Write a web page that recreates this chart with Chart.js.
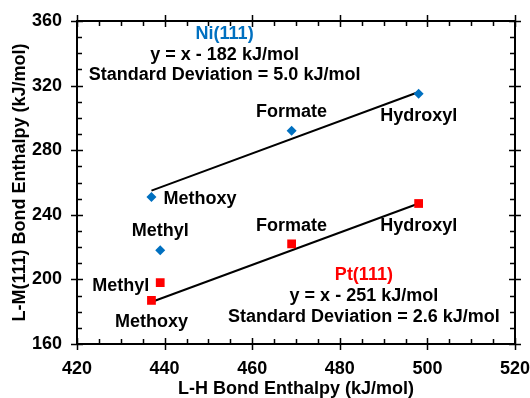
<!DOCTYPE html>
<html>
<head>
<meta charset="utf-8">
<script src="https://cdn.jsdelivr.net/npm/chart.js@4"></script>
<style>
  html, body { margin: 0; padding: 0; background: #fff; }
  #wrap { width: 530px; height: 398px; }
</style>
</head>
<body>
<div id="wrap"><canvas id="chart" width="530" height="398"></canvas></div>
<script>
// adsorbate order: Methoxy, Methyl, Formate, Hydroxyl
const adsorbates = ["Methoxy", "Methyl", "Formate", "Hydroxyl"];
const bondLH = [437, 439, 469, 498];
const niBond = [251, 218, 292, 315];
const ptBond = [187, 198, 222, 247];

// fitted lines, end points
const niFitX = [437, 498];
const niFitY = [255, 316];
const ptFitX = [437, 498];
const ptFitY = [186, 247];

const niNote = ["Ni(111)", "y = x - 182 kJ/mol", "Standard Deviation = 5.0 kJ/mol"];
const ptNote = ["Pt(111)", "y = x - 251 kJ/mol", "Standard Deviation = 2.6 kJ/mol"];

const xTicks = [420, 440, 460, 480, 500, 520];
const yTicks = [160, 200, 240, 280, 320, 360];

const FONT = "bold 18px 'Liberation Sans', Arial, sans-serif";
const NI_BLUE = "#0070c0";
const PT_RED = "#ff0000";

// label placement next to each point: [dx, dy, align]
const niLabelPos = [[12, 2, "left"], [0, -19, "center"], [0, -19, "center"], [0, 22, "center"]];
const ptLabelPos = [[0, 22, "center"], [-11, 3, "right"], [0, -18, "center"], [0, 23, "center"]];

function toPoints(xs, ys) {
  return xs.map((x, i) => ({ x, y: ys[i] }));
}

const frameAndTicks = {
  id: "frameAndTicks",
  afterDatasetsDraw(chart) {
    const { ctx, chartArea: a, scales } = chart;
    const sx = scales.x;
    const sy = scales.y;
    ctx.save();
    ctx.strokeStyle = "#000";
    ctx.lineWidth = 2;
    ctx.strokeRect(a.left, a.top, a.right - a.left, a.bottom - a.top);

    ctx.lineWidth = 1.5;
    ctx.beginPath();
    for (let v = 420; v <= 520; v += 5) {
      const px = Math.round(sx.getPixelForValue(v)) + 0.5;
      const major = v % 20 === 0;
      const out = major ? 6 : 0;
      const inn = major ? 6 : 5;
      ctx.moveTo(px, a.bottom + out);
      ctx.lineTo(px, a.bottom - inn);
      ctx.moveTo(px, a.top - out);
      ctx.lineTo(px, a.top + inn);
    }
    for (let v = 160; v <= 360; v += 10) {
      const py = Math.round(sy.getPixelForValue(v)) + 0.5;
      const major = v % 40 === 0;
      const out = major ? 6 : 0;
      const inn = major ? 6 : 5;
      ctx.moveTo(a.left - out, py);
      ctx.lineTo(a.left + inn, py);
      ctx.moveTo(a.right + out, py);
      ctx.lineTo(a.right - inn, py);
    }
    ctx.stroke();
    ctx.restore();
  }
};

const pointLabels = {
  id: "pointLabels",
  afterDatasetsDraw(chart) {
    const { ctx, scales } = chart;
    const sx = scales.x;
    const sy = scales.y;
    ctx.save();
    ctx.font = FONT;
    ctx.textBaseline = "middle";
    ctx.fillStyle = "#000";

    adsorbates.forEach((name, i) => {
      const x = sx.getPixelForValue(bondLH[i]);
      let [dx, dy, align] = niLabelPos[i];
      ctx.textAlign = align;
      ctx.fillText(name, x + dx, sy.getPixelForValue(niBond[i]) + dy);
      [dx, dy, align] = ptLabelPos[i];
      ctx.textAlign = align;
      ctx.fillText(name, x + dx, sy.getPixelForValue(ptBond[i]) + dy);
    });

    // fit notes
    ctx.textAlign = "center";
    const drawNote = (lines, cx, topY, color) => {
      lines.forEach((line, i) => {
        ctx.fillStyle = i === 0 ? color : "#000";
        ctx.fillText(line, sx.getPixelForValue(cx), sy.getPixelForValue(topY) + i * 20.8);
      });
    };
    drawNote(niNote, 453.7, 352, NI_BLUE);
    drawNote(ptNote, 485.5, 202.7, PT_RED);
    ctx.restore();
  }
};

new Chart(document.getElementById("chart"), {
  type: "scatter",
  plugins: [frameAndTicks, pointLabels],
  data: {
    datasets: [
      {
        label: "Ni fit",
        data: toPoints(niFitX, niFitY),
        showLine: true,
        borderColor: "#000",
        borderWidth: 2,
        pointRadius: 0,
        order: 3
      },
      {
        label: "Pt fit",
        data: toPoints(ptFitX, ptFitY),
        showLine: true,
        borderColor: "#000",
        borderWidth: 2,
        pointRadius: 0,
        order: 3
      },
      {
        label: "Ni(111)",
        data: toPoints(bondLH, niBond),
        pointStyle: "rectRot",
        pointRadius: 5,
        backgroundColor: NI_BLUE,
        borderColor: NI_BLUE,
        borderWidth: 0,
        order: 1
      },
      {
        label: "Pt(111)",
        data: toPoints(bondLH, ptBond),
        pointStyle: "rect",
        pointRadius: 6.2,
        backgroundColor: PT_RED,
        borderColor: PT_RED,
        borderWidth: 0,
        order: 1
      }
    ]
  },
  options: {
    responsive: false,
    animation: false,
    layout: { padding: { top: 21, right: 15, left: 0, bottom: 0 } },
    plugins: {
      legend: { display: false },
      tooltip: { enabled: false }
    },
    scales: {
      x: {
        type: "linear",
        min: 420,
        max: 520,
        afterBuildTicks: (scale) => { scale.ticks = xTicks.map((value) => ({ value })); },
        afterFit: (scale) => {
          scale.height = 54;
          scale.paddingLeft = 0;
          scale.paddingRight = 0;
        },
        grid: { display: true, drawOnChartArea: false, drawTicks: false },
        border: { display: false },
        ticks: { color: "#000", font: { family: "'Liberation Sans', Arial", size: 18, weight: "bold" }, padding: 14, maxRotation: 0 },
        title: {
          display: true,
          text: "L-H Bond Enthalpy (kJ/mol)",
          color: "#000",
          font: { family: "'Liberation Sans', Arial", size: 18, weight: "bold", lineHeight: 1 },
          padding: { top: 0, bottom: 0 }
        }
      },
      y: {
        type: "linear",
        min: 160,
        max: 360,
        afterBuildTicks: (scale) => { scale.ticks = yTicks.map((value) => ({ value })); },
        afterFit: (scale) => {
          scale.width = 77;
          scale.paddingTop = 0;
          scale.paddingBottom = 0;
        },
        grid: { display: true, drawOnChartArea: false, drawTicks: false },
        border: { display: false },
        ticks: { color: "#000", font: { family: "'Liberation Sans', Arial", size: 18, weight: "bold" }, padding: 15 },
        title: {
          display: true,
          text: "L-M(111) Bond Enthalpy (kJ/mol)",
          color: "#000",
          font: { family: "'Liberation Sans', Arial", size: 18, weight: "bold", lineHeight: 1 },
          padding: { top: 11, bottom: 0 }
        }
      }
    }
  }
});
</script>
</body>
</html>
